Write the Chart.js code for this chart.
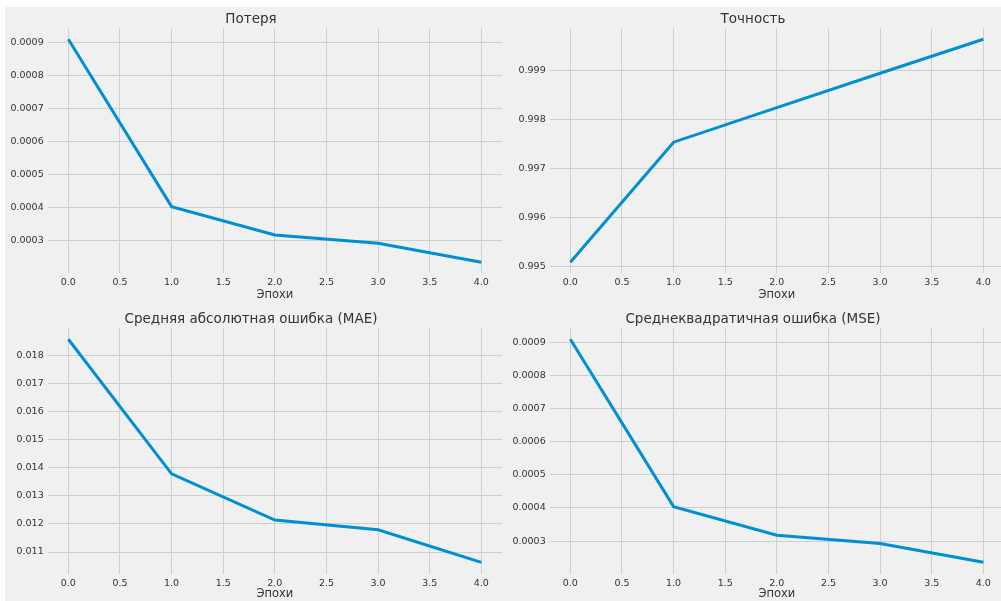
<!DOCTYPE html>
<html>
<head>
<meta charset="utf-8">
<script src="https://cdn.jsdelivr.net/npm/chart.js@4"></script>
<style>
  html, body { margin: 0; padding: 0; background: #ffffff; width: 1001px; height: 601px; overflow: hidden; }
  #fig { position: absolute; left: 5px; top: 7px; width: 996px; height: 594px; background: #f0f0f0; }
  canvas { position: absolute; }
</style>
</head>
<body>
<div id="fig"></div>
<canvas id="c1" width="502" height="298" style="left:0px;top:7px"></canvas>
<canvas id="c2" width="502" height="298" style="left:502px;top:7px"></canvas>
<canvas id="c3" width="502" height="301" style="left:0px;top:300px"></canvas>
<canvas id="c4" width="502" height="301" style="left:502px;top:300px"></canvas>
<script>
// ---- data ----
const epochs = [0, 1, 2, 3, 4];
const lossValues = [0.000909, 0.000403, 0.000317, 0.000292, 0.000235];
const accuracyValues = [0.995094, 0.997543, 0.998250, 0.998950, 0.999645];
const maeValues = [0.018568, 0.013779, 0.012136, 0.011792, 0.010632];
const mseValues = [0.000909, 0.000404, 0.000318, 0.000293, 0.000236];

const xTicks = [0, 0.5, 1, 1.5, 2, 2.5, 3, 3.5, 4];
const lossTicks = [0.0003, 0.0004, 0.0005, 0.0006, 0.0007, 0.0008, 0.0009];
const accuracyTicks = [0.995, 0.996, 0.997, 0.998, 0.999];
const maeTicks = [0.011, 0.012, 0.013, 0.014, 0.015, 0.016, 0.017, 0.018];
const mseTicks = [0.0003, 0.0004, 0.0005, 0.0006, 0.0007, 0.0008, 0.0009];

const titles = ['Потеря', 'Точность', 'Средняя абсолютная ошибка (MAE)', 'Среднеквадратичная ошибка (MSE)'];
const xLabel = 'Эпохи';

// ---- styling ----
const FONT = 'DejaVu Sans';
const TEXT = '#333333';
const GRID = '#cfcfcf';
const LINE = '#008fd5';

function bounds(arr) {
  const mn = Math.min(...arr), mx = Math.max(...arr);
  const m = (mx - mn) * 0.05;
  return [mn - m, mx + m];
}

function makeChart(id, title, values, yTicks, decimals, titlePad, xAxisH, xTitlePadBottom) {
  const [ymin, ymax] = bounds(values);
  const [xmin, xmax] = bounds(epochs);
  return new Chart(document.getElementById(id), {
    type: 'line',
    data: {
      datasets: [{
        data: epochs.map((e, i) => ({ x: e, y: values[i] })),
        borderColor: LINE,
        borderWidth: 3,
        pointRadius: 0,
        tension: 0,
        fill: false
      }]
    },
    options: {
      responsive: false,
      animation: false,
      devicePixelRatio: 1,
      layout: { padding: 0 },
      plugins: {
        legend: { display: false },
        tooltip: { enabled: false },
        title: {
          display: true,
          text: title,
          color: TEXT,
          font: { family: FONT, size: 13.5, weight: 'normal', lineHeight: 1.2 },
          padding: titlePad
        }
      },
      scales: {
        x: {
          type: 'linear',
          min: xmin, max: xmax,
          border: { display: false },
          grid: { color: GRID, lineWidth: 1, drawTicks: false },
          afterBuildTicks: s => { s.ticks = xTicks.map(v => ({ value: v })); },
          afterFit: s => { s.height = xAxisH; s.paddingLeft = 0; s.paddingRight = 0; },
          ticks: {
            color: TEXT, padding: 4, maxRotation: 0, autoSkip: false,
            font: { family: FONT, size: 9.5 },
            callback: v => Number(v).toFixed(1)
          },
          title: {
            display: true, text: xLabel, color: TEXT,
            font: { family: FONT, size: 11.5, lineHeight: 1.2 },
            padding: { top: 0, bottom: xTitlePadBottom }
          }
        },
        y: {
          type: 'linear',
          min: ymin, max: ymax,
          border: { display: false },
          grid: { color: GRID, lineWidth: 1, drawTicks: false },
          afterBuildTicks: s => { s.ticks = yTicks.map(v => ({ value: v })); },
          afterFit: s => { s.width = 47.7; s.paddingTop = 0; s.paddingBottom = 0; },
          ticks: {
            color: TEXT, padding: 4, autoSkip: false,
            font: { family: FONT, size: 9.5 },
            callback: v => Number(v).toFixed(decimals)
          }
        }
      }
    }
  });
}

makeChart('c1', titles[0], lossValues, lossTicks, 4, { top: 4, bottom: 0.9 }, 31.7, 3);
makeChart('c2', titles[1], accuracyValues, accuracyTicks, 3, { top: 4, bottom: 0.9 }, 31.7, 3);
makeChart('c3', titles[2], maeValues, maeTicks, 3, { top: 11.4, bottom: 0.5 }, 27.5, 0.5);
makeChart('c4', titles[3], mseValues, mseTicks, 4, { top: 11.4, bottom: 0.5 }, 27.5, 0.5);
</script>
</body>
</html>
